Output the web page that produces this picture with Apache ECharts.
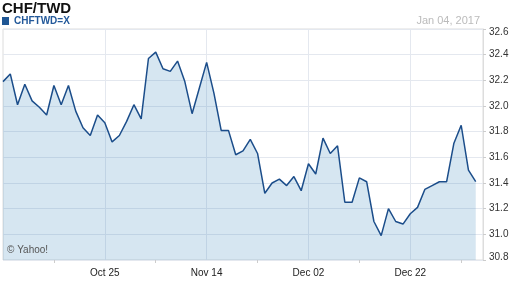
<!DOCTYPE html>
<html>
<head>
<meta charset="utf-8">
<script src="https://cdn.jsdelivr.net/npm/echarts@6/dist/echarts.min.js"></script>
<style>
html,body{margin:0;padding:0;background:#fff;}
#chart{width:512px;height:288px;}
</style>
</head>
<body>
<div id="chart"></div>
<script>
var dates = ['Oct 05','Oct 06','Oct 07','Oct 10','Oct 11','Oct 12','Oct 13','Oct 14','Oct 17','Oct 18','Oct 19','Oct 20','Oct 21','Oct 24','Oct 25',
'Oct 26','Oct 27','Oct 28','Oct 31','Nov 01','Nov 02','Nov 03','Nov 04','Nov 07','Nov 08','Nov 09','Nov 10','Nov 11','Nov 14',
'Nov 15','Nov 16','Nov 17','Nov 18','Nov 21','Nov 22','Nov 23','Nov 24','Nov 25','Nov 28','Nov 29','Nov 30','Dec 01','Dec 02',
'Dec 05','Dec 06','Dec 07','Dec 08','Dec 09','Dec 12','Dec 13','Dec 14','Dec 15','Dec 16','Dec 19','Dec 20','Dec 21','Dec 22',
'Dec 23','Dec 26','Dec 27','Dec 28','Dec 29','Dec 30','Jan 02','Jan 03','Jan 04','Jan 05'];
var rates = [32.19,32.25,32.01,32.17,32.04,31.99,31.93,32.16,32.01,32.16,31.96,31.83,31.77,31.93,31.87,
31.72,31.77,31.88,32.01,31.90,32.37,32.42,32.29,32.27,32.35,32.19,31.94,32.14,32.34,
32.10,31.81,31.81,31.62,31.65,31.74,31.63,31.32,31.40,31.43,31.38,31.45,31.34,31.55,
31.47,31.75,31.63,31.69,31.25,31.25,31.44,31.41,31.10,30.99,31.20,31.10,31.08,31.16,
31.21,31.35,31.38,31.41,31.41,31.71,31.85,31.50,31.41];
var yTicks = ['30.8','31.0','31.2','31.4','31.6','31.8','32.0','32.2','32.4','32.6'];
var titleText = 'CHF/TWD';
var seriesName = 'CHFTWD=X';
var dateText = 'Jan 04, 2017';

var chart = echarts.init(document.getElementById('chart'));
var FONT = '"Liberation Sans", Arial, sans-serif';
chart.setOption({
  animation: false,
  backgroundColor: '#ffffff',
  title: {
    text: titleText, left: 2, top: 1, padding: 0,
    textStyle: {fontSize: 15, fontWeight: 'bold', color: '#111', fontFamily: FONT}
  },
  legend: {
    data: [seriesName], left: 2, top: 16, padding: 0,
    icon: 'rect', itemWidth: 7, itemHeight: 8, itemGap: 5,
    textStyle: {fontSize: 10, fontWeight: 'bold', color: '#23599a', fontFamily: FONT}
  },
  graphic: [
    {type: 'text', right: 32, top: 15, style: {text: dateText, fill: '#bbbbbb', font: '11px ' + FONT}},
    {type: 'text', left: 7, top: 245, z: 100, style: {text: '\u00a9 Yahoo!', fill: '#555555', font: '10px ' + FONT}}
  ],
  grid: {left: 3, right: 29, top: 29, bottom: 28, show: true, borderColor: '#dcdcdc', borderWidth: 1},
  xAxis: {
    type: 'category', data: dates, boundaryGap: false,
    axisLine: {show: false},
    axisTick: {show: true, length: 3, interval: function (i) { return i % 14 === 7; }, lineStyle: {color: '#cccccc'}},
    axisLabel: {interval: function (i) { return i % 14 === 0 && i > 0; }, fontSize: 10, color: '#222', margin: 8, fontFamily: FONT},
    splitLine: {show: true, interval: function (i) { return i % 14 === 0 && i > 0 && i < 66; }, lineStyle: {color: '#e4e8ef'}}
  },
  yAxis: {
    type: 'value', position: 'right', min: 30.8, max: 32.6, interval: 0.2,
    axisLine: {show: true, lineStyle: {color: '#dddddd'}},
    axisTick: {show: true, length: 3, lineStyle: {color: '#cccccc'}},
    axisLabel: {
      margin: 6, fontSize: 10, color: '#333', fontFamily: FONT,
      formatter: function (v) {
        var s = v.toFixed(1);
        if (s === yTicks[yTicks.length - 1]) return '{t|' + s + '}';
        if (s === yTicks[0]) return '{b|' + s + '}';
        return s;
      },
      rich: {
        t: {fontSize: 10, color: '#333', padding: [7, 0, 0, 0], fontFamily: FONT},
        b: {fontSize: 10, color: '#333', padding: [0, 0, 6, 0], fontFamily: FONT}
      }
    },
    splitLine: {show: true, lineStyle: {color: '#e4e8ef'}}
  },
  series: [{
    name: seriesName, type: 'line', data: rates, symbol: 'none',
    itemStyle: {color: '#1f5694'},
    lineStyle: {color: '#1b4d8a', width: 1.5},
    areaStyle: {color: 'rgba(50,130,185,0.2)', opacity: 1, origin: 'start'}
  }]
});
</script>
</body>
</html>
